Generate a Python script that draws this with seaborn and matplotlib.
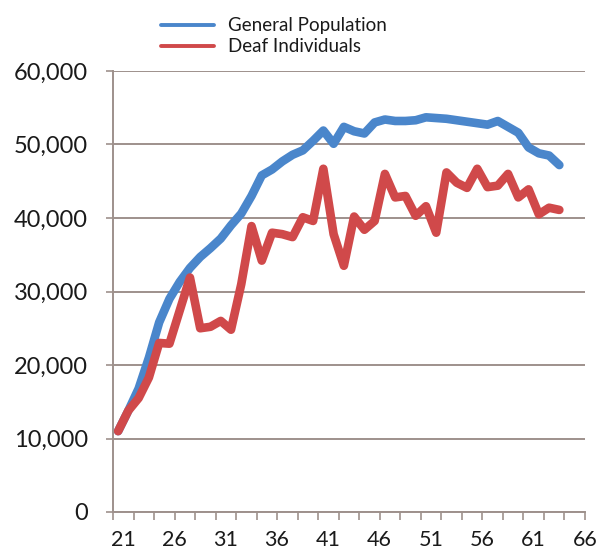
import matplotlib
matplotlib.use("Agg")
import matplotlib.pyplot as plt
import matplotlib.transforms as mtransforms
import seaborn as sns
import pandas as pd
from matplotlib.ticker import FuncFormatter, FixedLocator
from matplotlib.lines import Line2D

ages = list(range(21, 65))
general_population = [11000, 13800, 16800, 21000, 25800, 29000, 31300, 33200, 34700, 35900,
                      37200, 39000, 40600, 43000, 45800, 46600, 47700, 48600, 49200, 50500,
                      51900, 50100, 52400, 51800, 51500, 53000, 53400, 53200, 53200, 53300,
                      53700, 53600, 53500, 53300, 53100, 52900, 52700, 53200, 52400, 51600,
                      49600, 48800, 48500, 47200]
deaf_individuals = [11000, 13800, 15500, 18300, 23000, 22900, 27400, 31900, 25000, 25200,
                    26000, 24800, 31000, 38900, 34200, 38000, 37800, 37400, 40100, 39600,
                    46700, 37800, 33500, 40200, 38400, 39600, 46000, 42800, 43000, 40300,
                    41600, 38000, 46200, 44800, 44100, 46700, 44200, 44400, 46000, 42800,
                    43900, 40500, 41400, 41100]
series_names = ["General Population", "Deaf Individuals"]
x_tick_labels = [21, 26, 31, 36, 41, 46, 51, 56, 61, 66]
y_ticks = [0, 10000, 20000, 30000, 40000, 50000, 60000]

sns.set_theme(style="white")
plt.rcParams["font.family"] = ["Lato", "DejaVu Sans"]

df = pd.DataFrame({
    "age": ages * 2,
    "value": general_population + deaf_individuals,
    "series": [series_names[0]] * len(ages) + [series_names[1]] * len(ages),
})

fig = plt.figure(figsize=(6.06, 5.52), dpi=100)
ax = fig.add_axes([113 / 606, 1 - 512 / 552, (585 - 113) / 606, (512 - 71) / 552])

colors = {"General Population": "#4A86CB", "Deaf Individuals": "#D0494A"}
sns.lineplot(data=df, x="age", y="value", hue="series", palette=colors, ax=ax,
             linewidth=6.2, legend=False, solid_joinstyle="round", solid_capstyle="round")

grid_color = "#9e918c"
ax.set_xlim(20.5, 66.5)
ax.set_ylim(0, 60000)
ax.set_yticks(y_ticks)
ax.yaxis.set_major_formatter(FuncFormatter(lambda v, p: f"{int(v):,}"))
ax.set_xticks(x_tick_labels)
ax.set_xticklabels([str(t) for t in x_tick_labels])
ax.xaxis.set_minor_locator(FixedLocator([20.5 + 2 * i for i in range(24)]))

ax.grid(axis="y", color=grid_color, linewidth=1.4)
ax.set_axisbelow(True)
for s in ["top", "right"]:
    ax.spines[s].set_visible(False)
for s in ["left", "bottom"]:
    ax.spines[s].set_color(grid_color)
    ax.spines[s].set_linewidth(1.4)

ax.tick_params(axis="y", which="major", length=5, width=1.2, color=grid_color,
               direction="out", left=True, labelsize=17, pad=13, labelcolor="#1a1a1a")
ax.tick_params(axis="x", which="major", length=0, labelsize=15.5, pad=13, labelcolor="#1a1a1a")
ax.tick_params(axis="x", which="minor", length=6, width=1.2, color=grid_color,
               direction="out", bottom=True)
ax.set_xlabel("")
ax.set_ylabel("")

offset = mtransforms.ScaledTranslation(5 / 100, 0, fig.dpi_scale_trans)
for lbl in ax.get_xticklabels():
    lbl.set_transform(lbl.get_transform() + offset)

handles = [Line2D([0], [0], color=colors[n], linewidth=2.8) for n in series_names]
fig.legend(handles, series_names, loc="upper left", bbox_to_anchor=(152 / 606, 1 - 8 / 552),
           frameon=False, fontsize=13.5, handlelength=2.8, handletextpad=0.75,
           borderpad=0, labelspacing=0.2, labelcolor="#1a1a1a")

fig.savefig("out.png", dpi=100, facecolor="white")
